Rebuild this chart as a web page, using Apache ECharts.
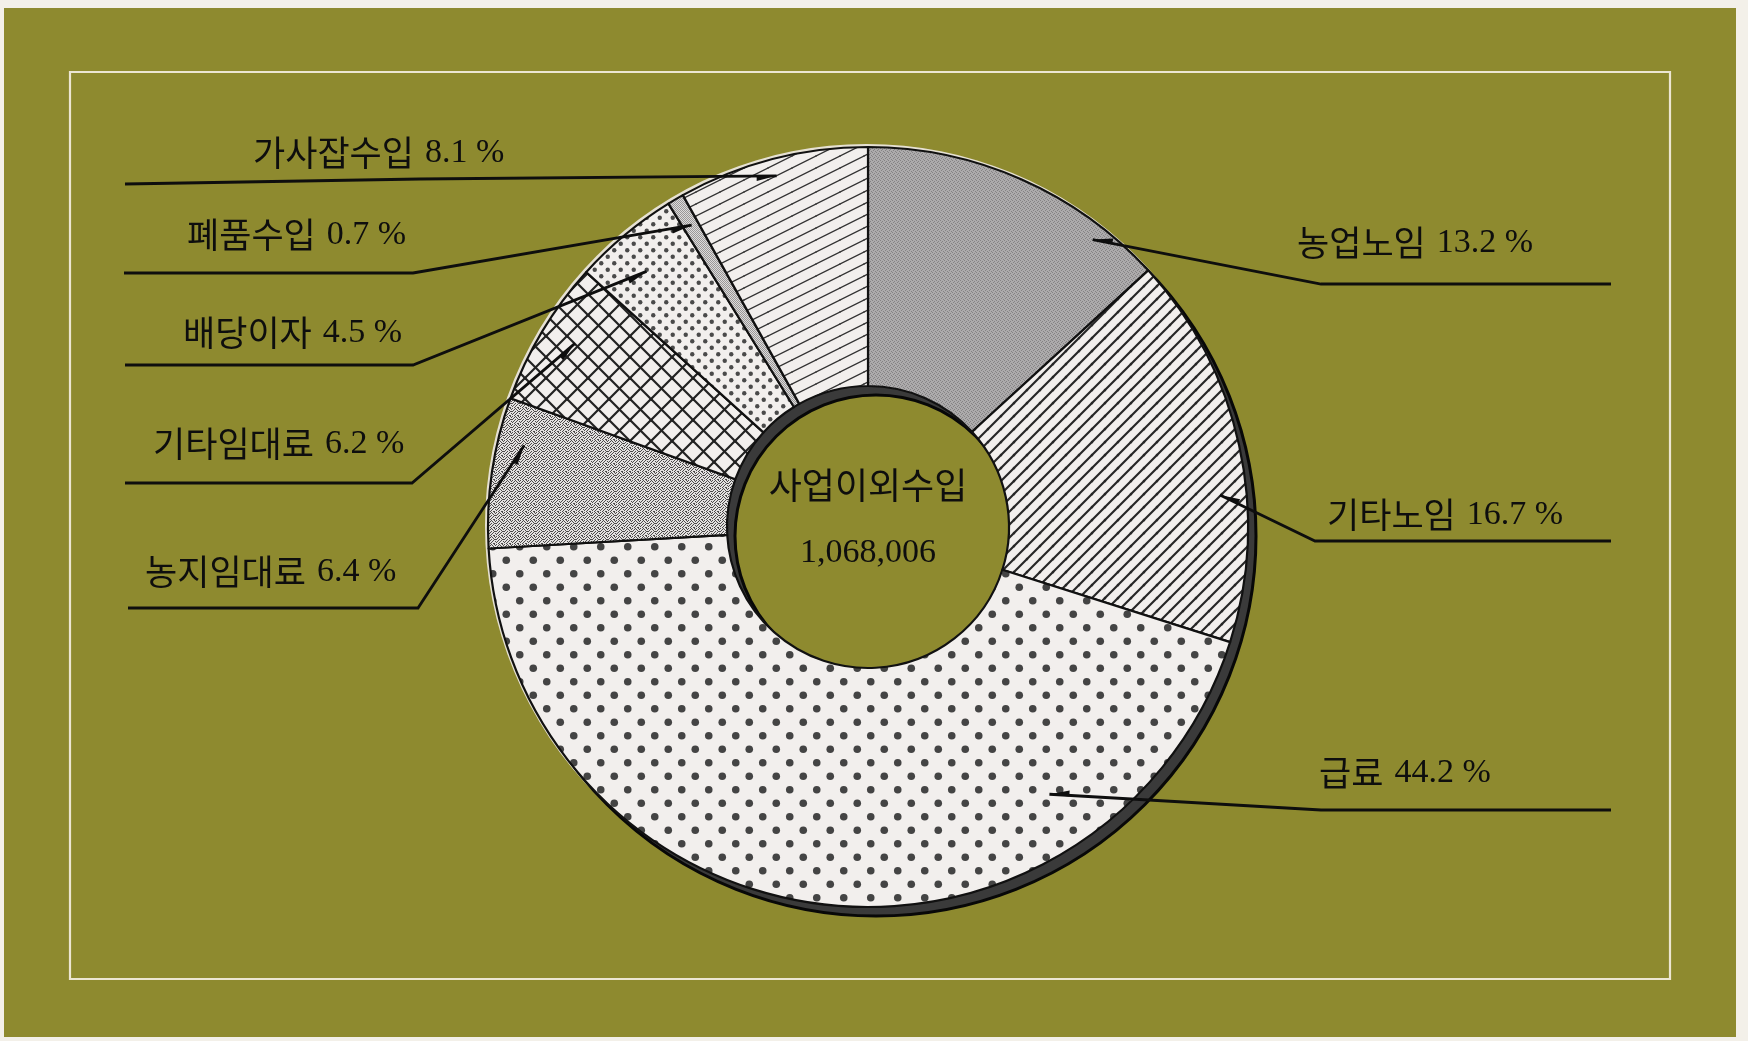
<!DOCTYPE html>
<html>
<head>
<meta charset="utf-8">
<script src="https://cdn.jsdelivr.net/npm/echarts@6/dist/echarts.min.js"></script>
<style>
html,body{margin:0;padding:0;background:#f3f0e9;overflow:hidden;}
#c{width:1748px;height:1041px;}
</style>
</head>
<body>
<div id="c"></div>
<script>
// ---------------- data ----------------
const categories = ['농업노임', '기타노임', '급료', '농지임대료', '기타임대료', '배당이자', '폐품수입', '가사잡수입'];
const shares = [13.2, 16.7, 44.2, 6.4, 6.2, 4.5, 0.7, 8.1];
const unit = '%';
const centerTitle = '사업이외수입';
const centerTotal = '1,068,006';

// ---------------- layout / style ----------------
const CX = 868, CY = 527, R_IN = 141, R_OUT = 380;
const SH_DX = 8, SH_DY = 9;
const INK = '#0e0e0e';
const PAPER = '#f2efed';

// label placement (text anchor, underline, leader tip inside slice as fraction of angle/radius)
const labelCfg = [
  {tx: 1297, ty: 243, ly: 284, ex: 1321, endX: 1611, tf: 0.80, rf: 0.96},
  {tx: 1327, ty: 515, ly: 541, ex: 1315, endX: 1611, tf: 0.62, rf: 0.93},
  {tx: 1319, ty: 773, ly: 810, ex: 1321, endX: 1611, tf: 0.24, rf: 0.85},
  {tx: 145,  ty: 572, ly: 608, ex: 418,  endX: 128,  tf: 0.72, rf: 0.93},
  {tx: 153,  ty: 444, ly: 483, ex: 412,  endX: 125,  tf: 0.55, rf: 0.91},
  {tx: 183,  ty: 333, ly: 365, ex: 413,  endX: 125,  tf: 0.43, rf: 0.89},
  {tx: 187,  ty: 235, ly: 273, ex: 413,  endX: 124,  tf: 0.55, rf: 0.92},
  {tx: 253,  ty: 153, ly: 184, ey: 179, ex: 420, endX: 125, tf: 0.50, rf: 0.955}
];

// ---------------- patterns ----------------
function tile(w, h, bg, draw) {
  const c = document.createElement('canvas');
  c.width = w; c.height = h;
  const ctx = c.getContext('2d');
  ctx.fillStyle = bg; ctx.fillRect(0, 0, w, h);
  draw(ctx, w, h);
  return c;
}
function maskTile(bg, fg, rows) {
  const h = rows.length, w = rows[0].length;
  return tile(w, h, bg, (ctx) => {
    ctx.fillStyle = fg;
    for (let y = 0; y < h; y++) for (let x = 0; x < w; x++) if (rows[y][x] === '1') ctx.fillRect(x, y, 1, 1);
  });
}
function hatchTile(w, h, bg, color, lw, both) {
  return tile(w, h, bg, (ctx) => {
    ctx.strokeStyle = color; ctx.lineWidth = lw; ctx.lineCap = 'square';
    for (let dx = -w; dx <= w; dx += w) for (let dy = -h; dy <= h; dy += h) {
      ctx.beginPath(); ctx.moveTo(dx, h + dy); ctx.lineTo(w + dx, dy); ctx.stroke();
      if (both) { ctx.beginPath(); ctx.moveTo(dx, dy); ctx.lineTo(w + dx, h + dy); ctx.stroke(); }
    }
  });
}
function dotTile(s, r, bg, color) {
  return tile(s, s, bg, (ctx) => {
    ctx.fillStyle = color;
    [[s / 4, s / 4], [3 * s / 4, 3 * s / 4]].forEach(p => {
      ctx.beginPath(); ctx.arc(p[0], p[1], r, 0, Math.PI * 2); ctx.fill();
    });
  });
}
const pat = c => ({image: c, repeat: 'repeat'});
const fills = [
  pat(maskTile('#adabac', '#858384', ['1000', '0010', '0100', '0001'])),
  pat(hatchTile(13, 13, PAPER, '#262626', 2.1, false)),
  pat(dotTile(27, 3.8, PAPER, '#444444')),
  pat(maskTile('#e3e1e0', '#4c4a4a', ['10010010', '00101001', '01000100', '10010011', '00100100', '01001001', '10010000', '00100110'])),
  pat(hatchTile(21, 21, PAPER, '#222222', 2.2, true)),
  pat(dotTile(13, 2.2, PAPER, '#4a4a4a')),
  pat(maskTile('#dddbdb', '#9a9898', ['10', '01'])),
  pat(hatchTile(24, 12, PAPER, '#333333', 1.3, false))
];

// ---------------- geometry helpers ----------------
const total = shares.reduce((a, b) => a + b, 0);
function tipPoint(i) {
  let start = 0;
  for (let k = 0; k < i; k++) start += shares[k];
  const a = (start + labelCfg[i].tf * shares[i]) / total * Math.PI * 2;
  const r = labelCfg[i].rf * R_OUT;
  return [CX + r * Math.sin(a), CY - r * Math.cos(a)];
}
function linePoints(i) {
  const c = labelCfg[i];
  return [tipPoint(i), [c.ex, c.ey != null ? c.ey : c.ly], [c.endX, c.ly]];
}

const leaderLines = categories.map((_, i) => ({
  type: 'polyline', z: 90, silent: true,
  shape: {points: linePoints(i)},
  style: {stroke: INK, lineWidth: 2.8, fill: null, lineJoin: 'miter'}
}));
const arrowHeads = categories.map((_, i) => {
  const pts = linePoints(i);
  const t = pts[0], e = pts[1];
  const dx = t[0] - e[0], dy = t[1] - e[1];
  const L = Math.hypot(dx, dy), ux = dx / L, uy = dy / L;
  const len = 20, hw = 5;
  const bx = t[0] - ux * len, by = t[1] - uy * len;
  return {
    type: 'polygon', z: 100, silent: true,
    shape: {points: [t, [bx - uy * hw, by + ux * hw], [bx + uy * 1, by - ux * 1]]},
    style: {fill: INK}
  };
});

const data = categories.map((name, i) => ({
  name, value: shares[i],
  itemStyle: {color: fills[i]}
}));

const chart = echarts.init(document.getElementById('c'), null, {renderer: 'canvas'});
chart.setOption({
  animation: false,
  backgroundColor: '#f3f0e9',
  graphic: [
    {type: 'rect', z: -20, silent: true, shape: {x: 4, y: 8, width: 1732, height: 1029}, style: {fill: '#8e8a2f'}},
    {type: 'rect', z: -19, silent: true, shape: {x: 70, y: 72, width: 1600, height: 907}, style: {fill: 'none', stroke: '#ece6d2', lineWidth: 2.2}},
    {type: 'text', z: 100, silent: true, x: CX, y: CY - 42,
      style: {text: centerTitle, font: "36px 'Noto Sans CJK KR'", fill: INK, align: 'center', verticalAlign: 'middle'}},
    {type: 'text', z: 100, silent: true, x: CX, y: CY + 26,
      style: {text: centerTotal, font: "34px 'Liberation Serif'", fill: INK, align: 'center', verticalAlign: 'middle'}}
  ].concat(leaderLines, arrowHeads),
  series: [
    {
      type: 'pie', z: 1, silent: true, center: [CX - 1.5, CY - 1.5], radius: [R_IN + 20, R_OUT + 1.5],
      label: {show: false}, labelLine: {show: false},
      itemStyle: {color: '#e6e1d3'}, emphasis: {disabled: true},
      data: [{value: 1, name: 'halo'}]
    },
    {
      type: 'pie', z: 2, silent: true, center: [CX + SH_DX, CY + SH_DY], radius: [R_IN, R_OUT],
      label: {show: false}, labelLine: {show: false},
      itemStyle: {color: '#3a3a3a', borderColor: '#080808', borderWidth: 3}, emphasis: {disabled: true},
      data: [{value: 1, name: 'shadow'}]
    },
    {
      type: 'pie', z: 3, center: [CX, CY], radius: [R_IN, R_OUT],
      startAngle: 90, clockwise: true, avoidLabelOverlap: false,
      emphasis: {disabled: true},
      itemStyle: {borderColor: '#111111', borderWidth: 2.2},
      label: {
        show: true, position: 'outside',
        formatter: p => '{h|' + p.name + '}{n|' + p.value.toFixed(1) + ' ' + unit + '}',
        rich: {
          h: {fontSize: 35, fontFamily: "'Noto Sans CJK KR'", color: INK},
          n: {fontSize: 34, fontFamily: "'Liberation Serif'", color: INK, padding: [0, 0, 0, 11]}
        }
      },
      labelLine: {show: false},
      labelLayout: function (params) {
        const c = labelCfg[params.dataIndex];
        return {x: c.tx, y: c.ty, align: 'left', verticalAlign: 'middle'};
      },
      data
    }
  ]
});
</script>
</body>
</html>
